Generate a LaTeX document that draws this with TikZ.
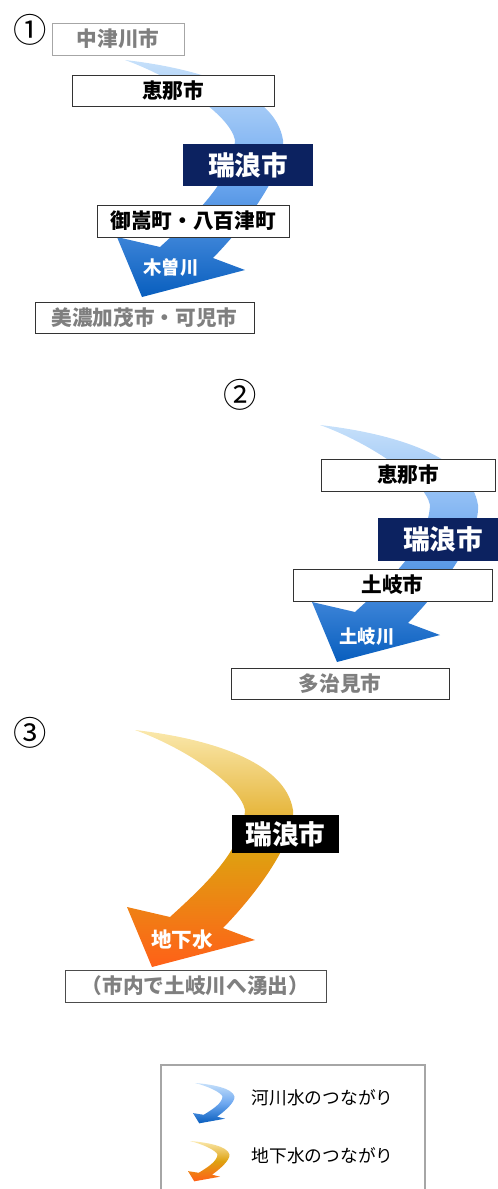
\documentclass[tikz,border=0pt]{standalone}
\usepackage{fontspec}
\usepackage{xcolor}
\usepackage{tikz}
\usetikzlibrary{positioning, calc}
\setmainfont{Noto Sans CJK JP}
\definecolor{citynavy}{RGB}{12, 34, 96}
\definecolor{labelgray}{RGB}{127, 127, 127}
\definecolor{framegray}{RGB}{166, 166, 166}
\definecolor{riverlight}{RGB}{198, 224, 250}
\definecolor{rivermid}{RGB}{110, 168, 240}
\definecolor{riverdark}{RGB}{8, 94, 190}
\definecolor{groundlight}{RGB}{250, 232, 172}
\definecolor{groundmid}{RGB}{222, 162, 16}
\definecolor{grounddark}{RGB}{255, 96, 24}

\tikzset{
    flowarrow/.pic={
        \shade[#1] (0,0) .. controls (70,8) and (150,30) .. (158,80)
            .. controls (160,110) and (125,160) .. (88,198)
            -- (120,210) -- (17,237) -- (-8,177) -- (35,187)
            .. controls (70,155) and (108,120) .. (110,80)
            .. controls (105,55) and (50,18) .. (0,0) -- cycle;
    }
}

\begin{document}
\begin{tikzpicture}[
    x=0.75pt, y=-0.75pt,
    riverflow/.style={top color=riverlight, bottom color=riverdark, middle color=rivermid},
    groundflow/.style={top color=groundlight, bottom color=grounddark, middle color=groundmid},
    citybox/.style={draw=black!80, fill=white, inner sep=0pt, minimum height=24pt,
        font=\bfseries\fontsize{15.5}{18}\selectfont},
    farbox/.style={citybox, text=labelgray},
    hostbox/.style={fill=citynavy, text=white, inner sep=0pt,
        font=\bfseries\fontsize{20}{24}\selectfont},
    flowlabel/.style={text=white, font=\bfseries\fontsize{13.8}{16}\selectfont},
    casemark/.style={font=\fontsize{25}{28}\selectfont},
    legendtext/.style={anchor=west, font=\fontsize{13.3}{16}\selectfont}
]
\useasboundingbox (0,0) rectangle (497,1189);

% (1) Kiso river
\node[casemark] (mark1) at (30,30) {①};
\pic at (125,60) {flowarrow=riverflow};
\node[farbox, draw=framegray, minimum width=99pt] (nakatsugawa) at (118,39) {中津川市};
\node[citybox, minimum width=151.5pt, minimum height=23.25pt] (ena1) at (173,90.5) {恵那市};
\node[hostbox, minimum width=97.5pt, minimum height=31.5pt] (mizunami1) at (248,165) {瑞浪市};
\node[citybox, minimum width=144pt] (mitake) at (193,221) {御嵩町・八百津町};
\node[flowlabel] (kiso) at (171,267) {木曽川};
\node[farbox, minimum width=164.25pt, minimum height=23.25pt] (minokamo) at (144.5,317.5) {美濃加茂市・可児市};

% (2) Toki river
\node[casemark] (mark2) at (240,395) {②};
\pic at (320,425) {flowarrow=riverflow};
\node[citybox, minimum width=130.5pt] (ena2) at (408,475) {恵那市};
\node[hostbox, minimum width=97.5pt, minimum height=32.25pt] (mizunami2) at (443,539.5) {瑞浪市};
\node[citybox, minimum width=149.25pt] (toki) at (392.5,585) {土岐市};
\node[flowlabel] (tokigawa) at (367,637) {土岐川};
\node[farbox, minimum width=163.5pt, minimum height=23.25pt] (tajimi) at (340,683.5) {多治見市};

% (3) groundwater
\node[casemark] (mark3) at (30,733) {③};
\pic at (135,730) {flowarrow=groundflow};
\node[hostbox, fill=black, minimum width=80.25pt, minimum height=28.5pt] (mizunami3) at (285.5,834) {瑞浪市};
\node[flowlabel, font=\bfseries\fontsize{15.5}{18}\selectfont] (chikasui) at (182,940) {地下水};
\node[farbox, draw=black!70, minimum width=195.75pt] (yushutsu) at (195.5,986) {（市内で土岐川へ湧出）};

% legend
\draw[framegray, line width=0.9pt] (161,1210) -- (161,1065) -- (425,1065) -- (425,1210);
\pic[xscale=0.25, yscale=0.17] at (195,1083) {flowarrow=riverflow};
\node[legendtext] (riverkey) at (247,1098) {河川水のつながり};
\pic[xscale=0.25, yscale=0.17] at (190,1141) {flowarrow=groundflow};
\node[legendtext] (groundkey) at (247,1156) {地下水のつながり};
\end{tikzpicture}
\end{document}
